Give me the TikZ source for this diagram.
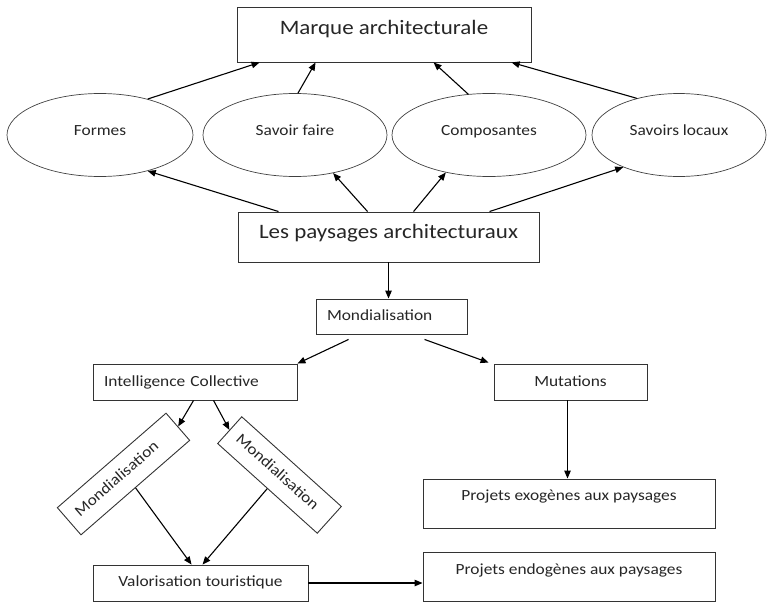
\documentclass[tikz,border=0pt]{standalone}
\usepackage{fontspec}
\setmainfont{Carlito}[FakeStretch=1.12]
\usetikzlibrary{arrows.meta,calc,shapes.geometric}
\tikzset{
  box/.style={draw=black!80, line width=0.9pt, rectangle, inner ysep=0pt, text=black!85},
  ctr/.style={box, inner xsep=0pt, align=center},
  lft/.style={box, align=left, inner xsep=11pt},
  bigf/.style={font=\fontsize{20.5}{24}\selectfont},
  smallf/.style={font=\fontsize{15.5}{18}\selectfont},
  ell/.style={draw=black!75, line width=0.7pt, ellipse, inner sep=0pt, minimum height=83pt,
    text height=0pt, text depth=0pt, smallf, text=black!85},
  arr/.style={-{Triangle[length=8pt,width=6.5pt]}, line width=1.1pt, black}
}
\begin{document}
\begin{tikzpicture}[x=1pt,y=-1pt]
\useasboundingbox (0,0) rectangle (767,602);
% boxes
\node[ctr,bigf,minimum width=294pt,text height=27.5pt,text depth=27.5pt] (marque) at (384,34.5) {Marque architecturale};
\node[ctr,bigf,minimum width=301pt,text height=26.6pt,text depth=23.4pt] (pay) at (388.5,237) {Les paysages architecturaux};
\node[lft,smallf,text width=129pt,text height=21.7pt,text depth=13.3pt] (mond) at (391.5,316.5) {Mondialisation};
\node[lft,smallf,text width=182pt,text height=22.7pt,text depth=13.3pt] (intel) at (195,382) {Intelligence Collective};
\node[ctr,smallf,minimum width=153pt,text height=22pt,text depth=14pt] (mut) at (570.5,382) {Mutations};
\node[lft,smallf,text width=122pt,text height=22pt,text depth=14pt,rotate=41] (rl) at (123.5,474) {Mondialisation};
\node[lft,smallf,text width=112pt,text height=22pt,text depth=14pt,rotate=-42] (rr) at (279.5,475) {Mondialisation};
\node[ctr,smallf,minimum width=215pt,text height=21.7pt,text depth=14.3pt] (val) at (200.5,583) {Valorisation touristique};
\node[ctr,smallf,minimum width=292pt,text height=21pt,text depth=28pt] (exo) at (569,503.5) {Projets exogènes aux paysages};
\node[ctr,smallf,minimum width=292pt,text height=22.3pt,text depth=26.7pt] (endo) at (569,576.5) {Projets endogènes aux paysages};
% ellipses
\node[ell,minimum width=186pt] (formes) at (100,135) {Formes};
\node[ell,minimum width=184pt] (savoir) at (295,135) {Savoir faire};
\node[ell,minimum width=194pt] (comp) at (489,135) {Composantes};
\node[ell,minimum width=174pt] (locaux) at (679,135) {Savoirs locaux};
% connectors
\draw[arr] (formes.37.4) -- ($(marque.south west)+(23,0)$);
\draw[arr] (savoir.86) -- ($(marque.south west)+(79,0)$);
\draw[arr] (comp.117) -- ($(marque.south west)+(197,0)$);
\draw[arr] (locaux.139.4) -- ($(marque.south west)+(275,0)$);
\draw[arr] ($(pay.north west)+(41,0)$) -- (formes.-37.6);
\draw[arr] ($(pay.north west)+(130,0)$) -- (savoir.-45.8);
\draw[arr] ($(pay.north west)+(176,0)$) -- (comp.-139.8);
\draw[arr] ($(pay.north west)+(252,0)$) -- (locaux.-150.7);
\draw[arr] (pay.south) -- (pay.south |- mond.north);
\draw[arr] ($(mond.south west)+(33,5)$) -- (intel.north east);
\draw[arr] ($(mond.south west)+(109,5)$) -- ($(mut.north west)+(-5,-1)$);
\draw[arr] ($(intel.south west)+(101,0)$) -- (rl.east);
\draw[arr] ($(intel.south west)+(121,0)$) -- (rr.west);
\draw[arr] (rl.south) -- ($(val.north west)+(99,0)$);
\draw[arr] (rr.south) -- ($(val.north west)+(110,0)$);
\draw[arr] (val.east) -- (val.east -| endo.west);
\coordinate (mt) at ($(mut.south)+(-3,0)$);
\draw[arr] (mt) -- (mt |- exo.north);
\end{tikzpicture}
\end{document}
